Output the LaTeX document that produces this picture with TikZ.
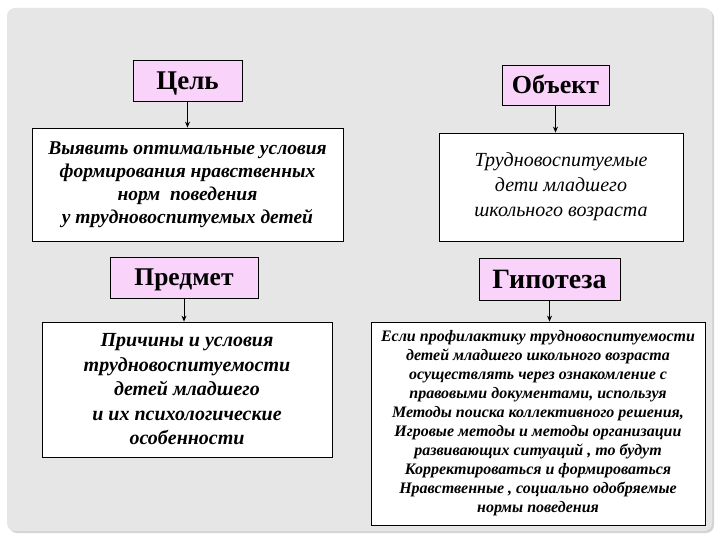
\documentclass[tikz,border=0pt]{standalone}
\usepackage{fontspec}
\setmainfont{Liberation Serif}
\usetikzlibrary{arrows.meta}
\definecolor{bggray}{HTML}{E6E6E6}
\definecolor{shadowgray}{HTML}{D4D4D4}
\definecolor{headpink}{HTML}{F9D3F9}
\tikzset{
  headbox/.style={draw=black, line width=0.8pt, fill=headpink, inner sep=0pt, text depth=0pt, font=\bfseries},
  textbox/.style={draw=black, line width=0.8pt, fill=white, inner sep=0pt, align=center, font=\bfseries\itshape},
  conn/.style={line width=0.9pt, -{Stealth[length=6pt,width=5pt]}}
}
\begin{document}
\begin{tikzpicture}[x=1pt,y=-1pt]
\useasboundingbox (0,0) rectangle (720,540);
\fill[white] (0,0) rectangle (720,540);
\fill[shadowgray, rounded corners=8pt] (9,10) rectangle (714,533);
\fill[bggray, rounded corners=8pt] (7,8) rectangle (712,531);

% left column
\node[headbox, minimum width=109pt, minimum height=41pt, text height=17.8pt, font=\bfseries\fontsize{27}{30}\selectfont] (cel) at (187.5,80.5) {Цель};
\node[textbox, minimum width=311pt, minimum height=113pt, font=\bfseries\itshape\fontsize{19.5}{23}\selectfont] (celtext) at (187.5,184.5)
  {Выявить оптимальные условия\\формирования нравственных\\норм\ \ поведения\\у трудновоспитуемых детей};

\node[headbox, minimum width=148pt, minimum height=41pt, text height=16.8pt, font=\bfseries\fontsize{25.5}{29}\selectfont] (predmet) at (184,277.5) {Предмет};
\node[textbox, minimum width=290pt, minimum height=135pt, font=\bfseries\itshape\fontsize{20}{24.5}\selectfont] (predtext) at (187,389.5)
  {Причины и условия\\трудновоспитуемости\\детей младшего\\и их психологические\\особенности};

% right column
\node[headbox, minimum width=107pt, minimum height=40pt, text height=17.2pt, font=\bfseries\fontsize{26}{29}\selectfont] (obj) at (555.5,85) {Объект};
\node[textbox, minimum width=244pt, minimum height=108pt, font=\itshape\fontsize{20}{25}\selectfont] (objtext) at (561,187)
  {Трудновоспитуемые\\дети младшего\\школьного возраста};

\node[headbox, minimum width=141pt, minimum height=42pt, text height=18.5pt, font=\bfseries\fontsize{28}{31}\selectfont] (gip) at (549.5,279) {Гипотеза};
\node[textbox, minimum width=334pt, minimum height=203pt, font=\bfseries\itshape\fontsize{16}{19}\selectfont] (giptext) at (538,423.5)
  {Если профилактику трудновоспитуемости\\детей младшего школьного возраста\\осуществлять через ознакомление с\\правовыми документами, используя\\Методы поиска коллективного решения,\\Игровые методы и методы организации\\развивающих ситуаций , то будут\\Корректироваться и формироваться\\Нравственные , социально одобряемые\\нормы поведения};

% connectors
\draw[conn] (cel.south) -- (cel.south |- celtext.north);
\draw[conn] (obj.south) -- (obj.south |- objtext.north);
\draw[conn] (predmet.south) -- (predmet.south |- predtext.north);
\draw[conn] (gip.south) -- (gip.south |- giptext.north);
\end{tikzpicture}
\end{document}
